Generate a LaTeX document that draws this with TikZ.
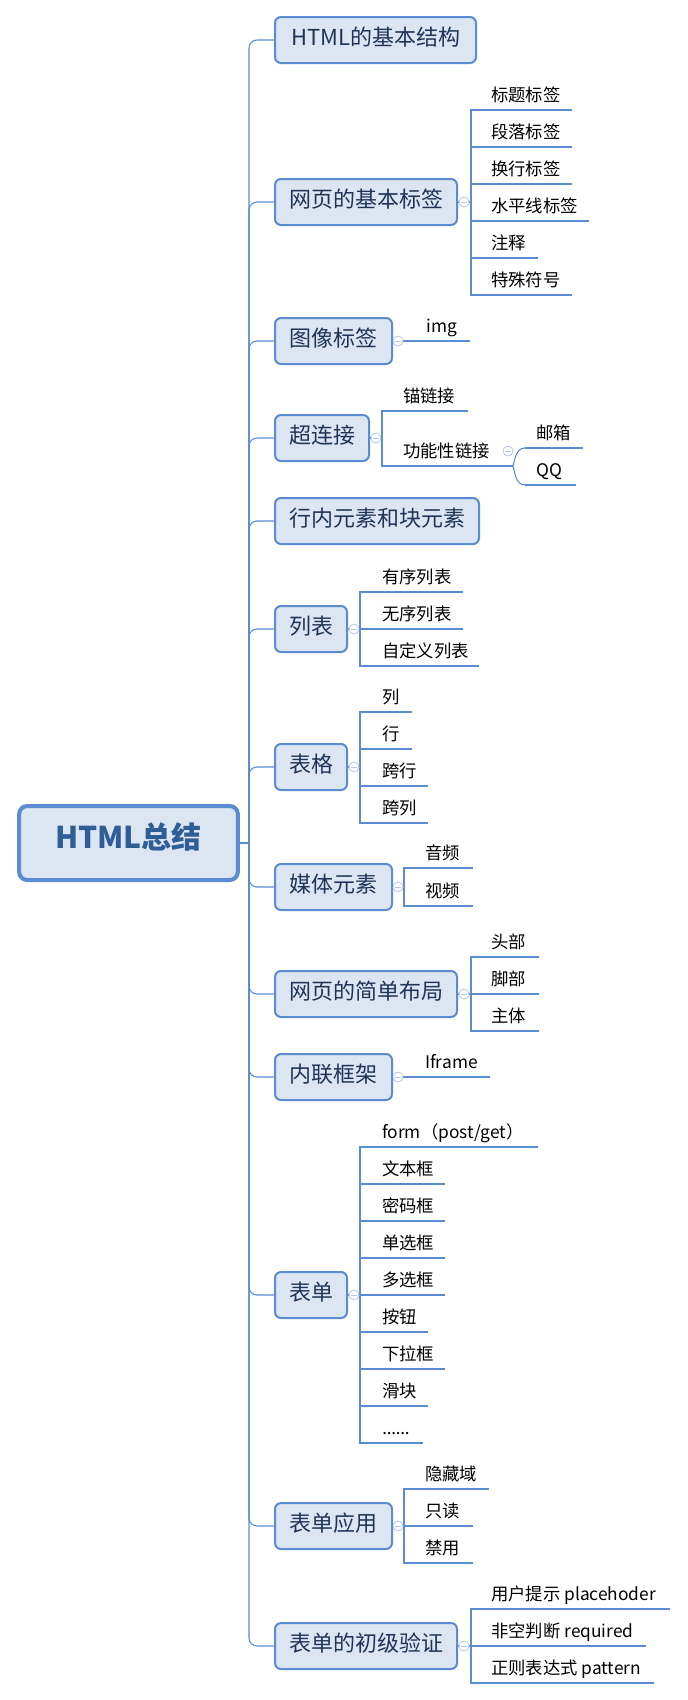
\documentclass[tikz,border=0pt]{standalone}
\usepackage{fontspec}
\setmainfont{Noto Sans CJK SC}
\newfontfamily\latinfont{Noto Sans}
\usetikzlibrary{calc}
\definecolor{lineblue}{HTML}{5B8CD2}
\definecolor{boxfill}{HTML}{DCE6F2}
\definecolor{boxtext}{HTML}{1F3557}
\definecolor{roottext}{HTML}{2F5D96}
\definecolor{circ}{HTML}{B5C8EA}
\def\pxu{0.75pt}
\tikzset{
  topic/.style={draw=lineblue, line width=1.5pt, fill=boxfill, rounded corners=4.5pt,
    anchor=west, minimum height=34.5pt, inner xsep=0pt, text=boxtext,
    font=\fontsize{16.5}{18}\selectfont, text height=0.76em, text depth=0pt},
  rootbox/.style={draw=lineblue, line width=3pt, fill=boxfill, rounded corners=6pt,
    minimum width=164pt, minimum height=55.5pt, text=roottext,
    font=\fontsize{22.5}{26}\selectfont\bfseries, text height=0.76em, text depth=0pt},
  leaf/.style={anchor=south west, inner xsep=8.25pt, inner ysep=0pt, text height=12pt,
    text depth=6.3pt, font=\fontsize{13}{15}\selectfont, text=black},
  uline/.style={draw=lineblue, line width=1.9pt},
  conn/.style={draw=lineblue, line width=0.8pt},
  fold/.style={circle, draw=circ, fill=white, line width=0.6pt, minimum size=7.5pt,
    inner sep=0pt, path picture={\draw[circ, line width=0.6pt]
      ([xshift=-2pt]path picture bounding box.center) --
      ([xshift=2pt]path picture bounding box.center);}},
}
\newcommand\topicnode[4]{\node[topic, minimum width={(#3-2)*\pxu}] (#1) at (274,#2) {#4};}
\newcommand\leafnode[5]{%
  \pgfmathsetmacro\lw{(#4-#2-22)*0.75}%
  \node[leaf] (#1) at (#2,#3) {\makebox[\lw pt][l]{#5}};
  \draw[uline] (#1.south west) -- (#1.south east);}
\begin{document}
\begin{tikzpicture}[x=0.75pt,y=-0.75pt]
\useasboundingbox[fill=white] (0,0) rectangle (687,1700);

% root
\node[rootbox] (root) at (128.5,843) {HTML总结};

% topics
\topicnode{b1}{40}{203}{HTML的基本结构}
\topicnode{b2}{202}{184}{网页的基本标签}
\topicnode{b3}{341}{119}{图像标签}
\topicnode{b4}{438}{96}{超连接}
\topicnode{b5}{521}{206}{行内元素和块元素}
\topicnode{b6}{629}{74}{列表}
\topicnode{b7}{767}{74}{表格}
\topicnode{b8}{887}{119}{媒体元素}
\topicnode{b9}{994}{184}{网页的简单布局}
\topicnode{b10}{1077}{119}{内联框架}
\topicnode{b11}{1295}{74}{表单}
\topicnode{b12}{1526}{119}{表单应用}
\topicnode{b13}{1646}{184}{表单的初级验证}

% spine
\coordinate (sp) at (249,843);
\draw[conn] (root.east) -- (sp);
\foreach \b in {b1,b2,b3,b4,b5,b6,b7,b8,b9,b10,b11,b12,b13}
  \draw[conn, rounded corners=6pt] (sp) |- (\b.west);

% leaves: 网页的基本标签
\leafnode{l21}{480}{110}{571}{标题标签}
\leafnode{l22}{480}{147}{571}{段落标签}
\leafnode{l23}{480}{184}{571}{换行标签}
\leafnode{l24}{480}{221}{588}{水平线标签}
\leafnode{l25}{480}{258}{537}{注释}
\leafnode{l26}{480}{295}{571}{特殊符号}
% 图像标签
\leafnode{l31}{415}{341}{469}{img}
% 超连接
\leafnode{l41}{392}{411}{467}{锚链接}
\leafnode{l42}{392}{466}{501}{功能性链接}
\leafnode{l421}{525}{448}{582}{邮箱}
\leafnode{l422}{525}{485}{575}{QQ}
% 列表
\leafnode{l61}{371}{592}{462}{有序列表}
\leafnode{l62}{371}{629}{462}{无序列表}
\leafnode{l63}{371}{666}{478}{自定义列表}
% 表格
\leafnode{l71}{371}{712}{411}{列}
\leafnode{l72}{371}{749}{411}{行}
\leafnode{l73}{371}{786}{427}{跨行}
\leafnode{l74}{371}{823}{427}{跨列}
% 媒体元素
\leafnode{l81}{414}{868}{472}{音频}
\leafnode{l82}{414}{906}{472}{视频}
% 网页的简单布局
\leafnode{l91}{480}{957}{538}{头部}
\leafnode{l92}{480}{994}{538}{脚部}
\leafnode{l93}{480}{1031}{538}{主体}
% 内联框架
\leafnode{l101}{414}{1077}{489}{Iframe}
% 表单
\leafnode{l111}{371}{1147}{537}{form（post/get）}
\leafnode{l112}{371}{1184}{444}{文本框}
\leafnode{l113}{371}{1221}{444}{密码框}
\leafnode{l114}{371}{1258}{444}{单选框}
\leafnode{l115}{371}{1295}{444}{多选框}
\leafnode{l116}{371}{1332}{427}{按钮}
\leafnode{l117}{371}{1369}{444}{下拉框}
\leafnode{l118}{371}{1406}{427}{滑块}
\leafnode{l119}{371}{1443}{422}{{\latinfont ……}}
% 表单应用
\leafnode{l121}{414}{1489}{488}{隐藏域}
\leafnode{l122}{414}{1526}{472}{只读}
\leafnode{l123}{414}{1563}{472}{禁用}
% 表单的初级验证
\leafnode{l131}{480}{1609}{669}{用户提示 placehoder}
\leafnode{l132}{480}{1646}{645}{非空判断 required}
\leafnode{l133}{480}{1683}{653}{正则表达式 pattern}

% bracket junctions
\coordinate (k2) at (471,202);
\coordinate (k4) at (382,438);
\coordinate (k6) at (360,629);
\coordinate (k7) at (360,767);
\coordinate (k8) at (404,887);
\coordinate (k9) at (471,994);
\coordinate (k11) at (360,1295);
\coordinate (k12) at (404,1526);
\coordinate (k13) at (471,1646);
\coordinate (kg) at (513,466);

\draw[conn] (b2.east) -- (k2);
\foreach \c in {l21,l22,l23,l24,l25,l26} \draw[conn] (k2) |- (\c.south west);
\draw[conn] (b3.east) -- (l31.south west);
\draw[conn] (b4.east) -- (k4);
\foreach \c in {l41,l42} \draw[conn] (k4) |- (\c.south west);
\draw[conn] (l42.south east) -- (kg);
\draw[conn] (kg) to[out=75,in=180] (l421.south west);
\draw[conn] (kg) to[out=-75,in=180] (l422.south west);
\draw[conn] (b6.east) -- (k6);
\foreach \c in {l61,l62,l63} \draw[conn] (k6) |- (\c.south west);
\draw[conn] (b7.east) -- (k7);
\foreach \c in {l71,l72,l73,l74} \draw[conn] (k7) |- (\c.south west);
\draw[conn] (b8.east) -- (k8);
\foreach \c in {l81,l82} \draw[conn] (k8) |- (\c.south west);
\draw[conn] (b9.east) -- (k9);
\foreach \c in {l91,l92,l93} \draw[conn] (k9) |- (\c.south west);
\draw[conn] (b10.east) -- (l101.south west);
\draw[conn] (b11.east) -- (k11);
\foreach \c in {l111,l112,l113,l114,l115,l116,l117,l118,l119} \draw[conn] (k11) |- (\c.south west);
\draw[conn] (b12.east) -- (k12);
\foreach \c in {l121,l122,l123} \draw[conn] (k12) |- (\c.south west);
\draw[conn] (b13.east) -- (k13);
\foreach \c in {l131,l132,l133} \draw[conn] (k13) |- (\c.south west);

% fold markers
\node[fold] (f2) at (464,202) {};
\node[fold] (f3) at (398,341) {};
\node[fold] (f4) at (376,438) {};
\node[fold] (fg) at (508,451) {};
\node[fold] (f6) at (354,629) {};
\node[fold] (f7) at (354,767) {};
\node[fold] (f8) at (398,887) {};
\node[fold] (f9) at (464,994) {};
\node[fold] (f10) at (398,1077) {};
\node[fold] (f11) at (354,1295) {};
\node[fold] (f12) at (398,1526) {};
\node[fold] (f13) at (464,1646) {};
\end{tikzpicture}
\end{document}
